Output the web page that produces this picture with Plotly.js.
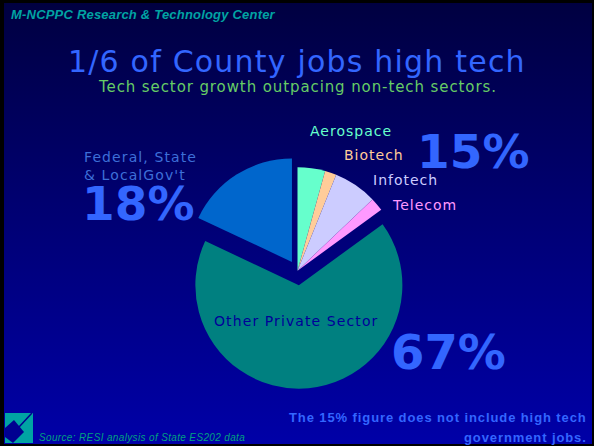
<!DOCTYPE html>
<html>
<head>
<meta charset="utf-8">
<script src="https://cdn.plot.ly/plotly-3.0.1.min.js"></script>
<style>
  html, body { margin: 0; padding: 0; background: #000; }
  #chart {
    width: 594px; height: 446px;
    background: linear-gradient(to bottom, #000040 0%, #000070 45%, #0000a8 100%);
    box-shadow: inset 4px 3px 0 #000, inset -2px -2px 0 #000;
  }
</style>
</head>
<body>
<div id="chart"></div>
<script>
// ---- data ----
const sectors = ["Aerospace", "Biotech", "Infotech", "Telecom", "Other Private Sector", "Federal, State & LocalGov't"];
const shares = [4.3, 1.8, 6.8, 2.1, 67, 18];
const sliceColors = ["#66ffcc", "#ffcc99", "#ccccff", "#ff99ff", "#008080", "#0066cc"];
const techSectors = ["Aerospace", "Biotech", "Infotech", "Telecom"];
const titleText = "1/6 of County jobs high tech";
const subtitleText = "Tech sector growth outpacing non-tech sectors.";
const headerText = "M-NCPPC Research & Technology Center";
const sourceText = "Source: RESI analysis of State ES202 data";
const noteLines = ["The 15% figure does not include high tech", "government jobs."];

// ---- helpers ----
const W = 594, H = 446;
const px = x => x / W;
const py = y => 1 - y / H;
const sp = (t, ls) => `<span style="letter-spacing:${ls}px">${t}</span>`;

const techTotal = Math.round(shares.filter((v, i) => techSectors.includes(sectors[i])).reduce((a, b) => a + b, 0));
const pct = name => Math.round(shares[sectors.indexOf(name)]) + "%";

const pulls = sectors.map(s => s === "Other Private Sector" ? 0.14 : (techSectors.includes(s) ? 0 : 0.1));

const trace = {
  type: "pie",
  labels: sectors,
  values: shares,
  sort: false,
  direction: "clockwise",
  rotation: 0,
  pull: pulls,
  marker: { colors: sliceColors, line: { width: 0 } },
  textinfo: "none",
  hoverinfo: "label+percent",
  domain: { x: [0.3022, 0.6995], y: [0.1285, 0.6576] }
};

const sans = "DejaVu Sans, Verdana, sans-serif";
const arial = "Liberation Sans, Arial, sans-serif";
const bigBlue = "#3366ff";

function ann(text, x, y, opts) {
  return Object.assign({
    text: text, xref: "paper", yref: "paper", x: px(x), y: py(y),
    showarrow: false, xanchor: "left", yanchor: "middle"
  }, opts);
}

const annotations = [
  ann(sp(headerText, 0.2), 9, 15, { font: { family: arial, size: 13, color: "#00a3a3", weight: "bold", style: "italic" } }),
  ann(sp(titleText, 1.2), 297, 62, { xanchor: "center", font: { family: sans, size: 30, color: bigBlue } }),
  ann(sp(subtitleText, 0.9), 297, 87, { xanchor: "center", font: { family: sans, size: 15, color: "#66cc66" } }),
  ann(sp(sectors[0], 1), 308, 131, { font: { family: sans, size: 14, color: sliceColors[0] } }),
  ann(sp(sectors[1], 1), 342, 155, { font: { family: sans, size: 14, color: sliceColors[1] } }),
  ann(sp(sectors[2], 1), 371, 180, { font: { family: sans, size: 14, color: sliceColors[2] } }),
  ann(sp(sectors[3], 1), 390, 205, { font: { family: sans, size: 14, color: sliceColors[3] } }),
  ann(techTotal + "%", 415, 151, { font: { family: sans, size: 47, color: bigBlue, weight: "bold" } }),
  ann(sp("Federal, State", 1.1) + "<br>" + sp("& LocalGov't", 1.1), 82, 166, { align: "left", font: { family: sans, size: 14, color: "#3d6fd8" } }),
  ann(pct(sectors[5]), 80, 203, { font: { family: sans, size: 47, color: bigBlue, weight: "bold" } }),
  ann(sp(sectors[4], 1.1), 296, 321, { xanchor: "center", font: { family: sans, size: 14, color: "#000099" } }),
  ann(pct(sectors[4]), 389, 352, { font: { family: sans, size: 48, color: bigBlue, weight: "bold" } }),
  ann(sp(noteLines[0], 0.9), 589, 417, { xanchor: "right", font: { family: arial, size: 13, color: bigBlue, weight: "bold" } }),
  ann(sp(noteLines[1], 0.9), 589, 437, { xanchor: "right", font: { family: arial, size: 13, color: bigBlue, weight: "bold" } }),
  ann(sp(sourceText, 0.35), 37, 437, { font: { family: arial, size: 10, color: "#00a080", style: "italic" } })
];

const shapes = [
  { type: "rect", xref: "paper", yref: "paper", x0: px(5), x1: px(33), y0: py(443), y1: py(413), fillcolor: "#00a3a3", line: { width: 0 } },
  { type: "path", xref: "paper", yref: "paper",
    path: `M ${px(5)} ${py(428)} L ${px(14)} ${py(420)} L ${px(24)} ${py(432)} L ${px(13)} ${py(443)} L ${px(5)} ${py(437)} Z`,
    fillcolor: "#000090", line: { width: 0 } },
  { type: "line", xref: "paper", yref: "paper", x0: px(19), y0: py(427), x1: px(32), y1: py(413), line: { color: "#000090", width: 1.5 } }
];

const layout = {
  width: W, height: H,
  margin: { l: 0, r: 0, t: 0, b: 0 },
  paper_bgcolor: "rgba(0,0,0,0)",
  plot_bgcolor: "rgba(0,0,0,0)",
  showlegend: false,
  annotations: annotations,
  shapes: shapes
};

Plotly.newPlot("chart", [trace], layout, { staticPlot: true, displayModeBar: false });
</script>
</body>
</html>
